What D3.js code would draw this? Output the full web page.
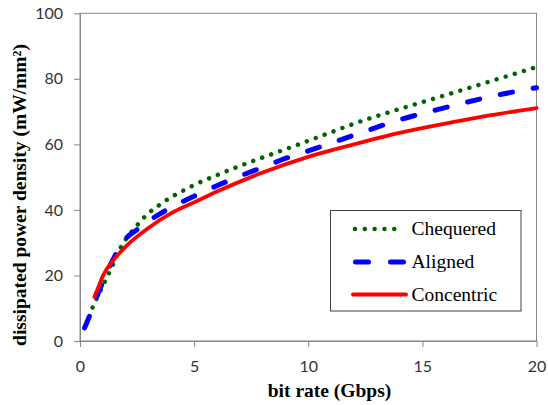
<!DOCTYPE html>
<html>
<head>
<meta charset="utf-8">
<script src="https://cdn.jsdelivr.net/npm/d3@7"></script>
<style>
  html, body { margin: 0; padding: 0; background: #fff; }
  svg { display: block; }
  .serif { font-family: "Liberation Serif", "DejaVu Serif", "Noto Serif", serif; }
</style>
</head>
<body>
<svg id="chart" width="548" height="405"></svg>
<script>
// Bit rate (Gbps) and dissipated power density (mW/mm²) for three layouts
const chequeredX = [0.55, 0.75, 1, 1.25, 1.5, 1.75, 2, 2.25, 2.5, 2.75, 3, 3.5, 4, 4.5, 5, 6, 7, 8, 9, 10, 11, 12, 14, 16, 18, 20];
const chequeredY = [10.2, 13.2, 16.8, 20.4, 24.2, 28.1, 31.0, 33.2, 35.3, 37.3, 39.0, 41.6, 43.9, 45.8, 47.6, 50.6, 53.4, 56.0, 58.5, 61.1, 63.7, 66.3, 70.8, 75.0, 79.3, 83.6];

const alignedX = [0.2, 0.35, 0.5, 0.7, 1, 1.25, 1.5, 2, 2.5, 3, 3.5, 4, 5, 6, 7, 8, 9, 10, 12, 14, 16, 18, 20];
const alignedY = [4.0, 6.5, 9.0, 12.8, 18.0, 22.0, 25.6, 31.2, 34.0, 36.6, 38.8, 40.8, 44.2, 47.4, 50.3, 53.0, 55.7, 58.0, 62.8, 67.5, 71.2, 74.6, 77.3];

const concentricX = [0.63, 0.8, 1, 1.5, 2, 3, 4, 5, 6, 8, 10, 12, 14, 16, 18, 20];
const concentricY = [13.4, 16.3, 19.8, 25.0, 28.8, 34.5, 39.0, 42.3, 45.6, 51.4, 56.2, 60.0, 63.5, 66.3, 68.9, 71.1];

const xTicks = [0, 5, 10, 15, 20];
const yTicks = [0, 20, 40, 60, 80, 100];
const seriesNames = ["Chequered", "Aligned", "Concentric"];

const svg = d3.select("#chart");
const plotLeft = 80, plotRight = 536.5, plotTop = 13.3, plotBottom = 341;

const x = d3.scaleLinear().domain([0, 20]).range([plotLeft, plotRight]);
const y = d3.scaleLinear().domain([0, 100]).range([plotBottom, plotTop]);

const frameColor = "#868686";
const tickFont = "Lato, 'Open Sans', sans-serif";

// plot frame (top and right edges)
svg.append("rect")
  .attr("x", plotLeft).attr("y", plotTop)
  .attr("width", plotRight - plotLeft).attr("height", plotBottom - plotTop)
  .attr("fill", "none").attr("stroke", frameColor).attr("stroke-width", 1);

// axes
const xAxis = svg.append("g")
  .attr("transform", `translate(0,${plotBottom})`)
  .call(d3.axisBottom(x).tickValues(xTicks).tickSize(6).tickSizeOuter(0).tickPadding(14));
const yAxis = svg.append("g")
  .attr("transform", `translate(${plotLeft},0)`)
  .call(d3.axisLeft(y).tickValues(yTicks).tickSize(6).tickSizeOuter(0).tickPadding(11));

[xAxis, yAxis].forEach(g => {
  g.attr("font-family", null).attr("font-size", null);
  g.select(".domain").attr("stroke", frameColor);
  g.selectAll(".tick line").attr("stroke", frameColor);
  g.selectAll(".tick text")
    .attr("fill", "#333")
    .style("font-family", tickFont)
    .style("font-size", "16px");
});

// series lines
const line = d3.line()
  .x(d => x(d[0]))
  .y(d => y(d[1]))
  .curve(d3.curveMonotoneX);

const series = [
  { name: seriesNames[0], xs: chequeredX, ys: chequeredY, color: "#006400", width: 4.5, dash: "0.01,9.5" },
  { name: seriesNames[1], xs: alignedX, ys: alignedY, color: "#0000ff", width: 5, dash: "12.5,21" },
  { name: seriesNames[2], xs: concentricX, ys: concentricY, color: "#ff0000", width: 3.8, dash: null }
];

// drawn in series order, so the solid line ends up on top
const plot = svg.append("g");
series.forEach(s => {
  plot.append("path")
    .datum(s.xs.map((v, i) => [v, s.ys[i]]))
    .attr("d", line)
    .attr("fill", "none")
    .attr("stroke", s.color)
    .attr("stroke-width", s.width)
    .attr("stroke-linecap", "round")
    .attr("stroke-dasharray", s.dash);
});

// legend
const legend = svg.append("g");
legend.append("rect")
  .attr("x", 330.5).attr("y", 210.5)
  .attr("width", 190.5).attr("height", 100.5)
  .attr("fill", "#fff").attr("stroke", "#404040").attr("stroke-width", 1);

const rowY = [229, 262, 294.5];
series.forEach((s, i) => {
  const sample = legend.append("line")
    .attr("y1", rowY[i]).attr("y2", rowY[i])
    .attr("stroke", s.color)
    .attr("stroke-width", s.width)
    .attr("stroke-linecap", "round");
  if (i === 0) {
    sample.attr("x1", 355).attr("x2", 404).attr("stroke-dasharray", "0.01,9.8");
  } else if (i === 1) {
    sample.attr("x1", 355.5).attr("x2", 403.5).attr("stroke-dasharray", "13,22");
  } else {
    sample.attr("x1", 353).attr("x2", 406);
  }
  legend.append("text")
    .attr("class", "serif")
    .attr("x", 411.5).attr("y", rowY[i])
    .attr("dy", "0.33em")
    .style("font-size", "19.5px")
    .attr("fill", "#000")
    .text(s.name);
});

// axis titles
svg.append("text")
  .attr("class", "serif")
  .attr("x", 329.5).attr("y", 396.5)
  .attr("text-anchor", "middle")
  .style("font-weight", "bold")
  .style("font-size", "19.5px")
  .text("bit rate (Gbps)");

svg.append("text")
  .attr("class", "serif")
  .attr("transform", "translate(26,195) rotate(-90)")
  .attr("text-anchor", "middle")
  .style("font-weight", "bold")
  .style("font-size", "19.5px")
  .text("dissipated power density (mW/mm²)");
</script>
</body>
</html>
